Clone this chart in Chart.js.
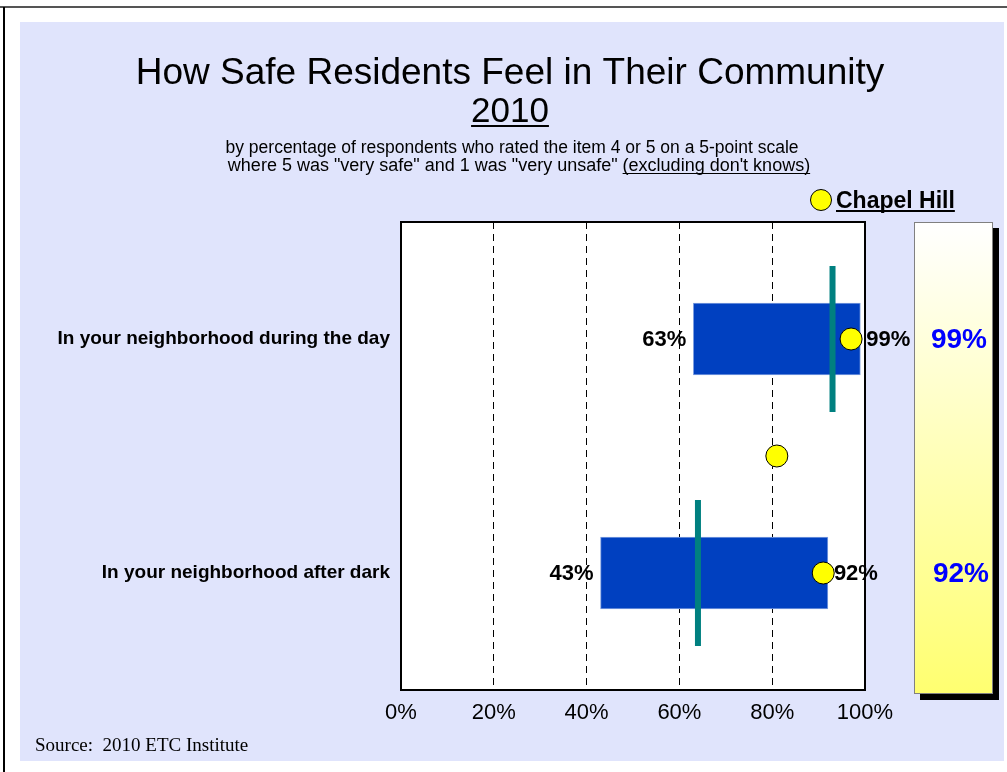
<!DOCTYPE html>
<html>
<head>
<meta charset="utf-8">
<script src="https://cdn.jsdelivr.net/npm/chart.js@4.4.1/dist/chart.umd.min.js"></script>
<style>
  html, body { margin: 0; padding: 0; background: #fff; overflow: hidden; }
  canvas { display: block; }
</style>
</head>
<body>
<canvas id="chart" width="1007" height="772"></canvas>
<script>
// chart data
const categories = ['In your neighborhood during the day', 'In your neighborhood after dark'];
const lowVals = [63, 43];      // low end of range
const highVals = [99, 92];     // high end of range
const avgVals = [93, 64];      // teal marker
const chapelHill = [97, 91];   // yellow dots on the bars
const extraDot = 81;           // stray yellow dot between the rows
const boxVals = [99, 92];      // Chapel Hill values in the side box
const xTicks = [0, 20, 40, 60, 80, 100];

const FONT = '"Liberation Sans", Arial, sans-serif';

const teal = avgVals.map((v, i) => ({
  type: 'scatter',
  data: [{ x: v, y: i - 0.312 }, { x: v, y: i + 0.312 }],
  yAxisID: 'yv',
  showLine: true,
  borderColor: '#008080',
  borderWidth: 6,
  pointRadius: 0,
  order: 1
}));

function drawPercent(ctx, text, x, y, align, font, color) {
  ctx.font = font;
  ctx.fillStyle = color;
  ctx.textAlign = align;
  ctx.textBaseline = 'middle';
  ctx.fillText(text, x, y);
}

const decor = {
  id: 'decor',
  beforeDraw(chart) {
    const { ctx, chartArea: a } = chart;
    ctx.save();
    ctx.fillStyle = '#fff';
    ctx.fillRect(0, 0, chart.width, chart.height);
    ctx.fillStyle = '#555';
    ctx.fillRect(0, 6, chart.width, 2);
    ctx.fillStyle = '#000';
    ctx.fillRect(3, 7, 2, chart.height - 7);
    ctx.fillStyle = '#E0E4FC';
    ctx.fillRect(20, 22, 984, 739);
    ctx.fillStyle = '#fff';
    ctx.fillRect(a.left, a.top, a.right - a.left, a.bottom - a.top);
    ctx.restore();
  },
  afterDraw(chart) {
    const { ctx, chartArea: a, scales } = chart;
    ctx.save();
    // plot border
    ctx.strokeStyle = '#000';
    ctx.lineWidth = 2;
    ctx.strokeRect(a.left, a.top, a.right - a.left, a.bottom - a.top);

    // titles
    ctx.fillStyle = '#000';
    ctx.textAlign = 'center';
    ctx.textBaseline = 'alphabetic';
    ctx.font = '37px ' + FONT;
    ctx.fillText('How Safe Residents Feel in Their Community', 510, 84);
    ctx.font = '35px ' + FONT;
    ctx.fillText('2010', 510, 122);
    let w = ctx.measureText('2010').width;
    ctx.fillRect(510 - w / 2, 125, w, 2);

    ctx.font = '17.5px ' + FONT;
    ctx.fillText('by percentage of respondents who rated the item 4 or 5 on a 5-point scale', 512, 153);
    ctx.font = '18px ' + FONT;
    const p1 = 'where 5 was "very safe" and 1 was "very unsafe" ';
    const p2 = "(excluding don't knows)";
    const w1 = ctx.measureText(p1).width, w2 = ctx.measureText(p2).width;
    let sx = 519 - (w1 + w2) / 2;
    ctx.textAlign = 'left';
    ctx.fillText(p1, sx, 171);
    ctx.fillText(p2, sx + w1, 171);
    ctx.fillRect(sx + w1, 173, w2, 1);

    // legend
    ctx.beginPath();
    ctx.arc(821, 200, 10.5, 0, Math.PI * 2);
    ctx.fillStyle = '#FFFF00';
    ctx.fill();
    ctx.lineWidth = 1;
    ctx.strokeStyle = '#000';
    ctx.stroke();
    ctx.fillStyle = '#000';
    ctx.font = 'bold 23px ' + FONT;
    ctx.fillText('Chapel Hill', 836, 208);
    w = ctx.measureText('Chapel Hill').width;
    ctx.fillRect(836, 210, w, 2);

    // range labels
    const lf = 'bold 22px ' + FONT;
    categories.forEach((c, i) => {
      const y = scales.y.getPixelForValue(i) + 1;
      drawPercent(ctx, lowVals[i] + '%', scales.x.getPixelForValue(lowVals[i]) - 7, y, 'right', lf, '#000');
      drawPercent(ctx, highVals[i] + '%', scales.x.getPixelForValue(highVals[i]) + 6, y, 'left', lf, '#000');
    });

    // side box
    ctx.fillStyle = '#000';
    ctx.fillRect(920, 228, 79, 472);
    const g = ctx.createLinearGradient(0, 222, 0, 694);
    g.addColorStop(0, '#FFFFFF');
    g.addColorStop(1, '#FFFF70');
    ctx.fillStyle = g;
    ctx.fillRect(914, 222, 79, 472);
    ctx.strokeStyle = '#808080';
    ctx.lineWidth = 1;
    ctx.strokeRect(914.5, 222.5, 78, 471);
    boxVals.forEach((v, i) => {
      const y = scales.y.getPixelForValue(i) + 1;
      drawPercent(ctx, v + '%', 959 + i * 2, y, 'center', 'bold 28px ' + FONT, '#0000FF');
    });

    // source
    ctx.fillStyle = '#000';
    ctx.textAlign = 'left';
    ctx.textBaseline = 'alphabetic';
    ctx.font = '19px "Liberation Serif", "Times New Roman", serif';
    ctx.fillText('Source:  2010 ETC Institute', 35, 751);
    ctx.restore();
  }
};

new Chart(document.getElementById('chart'), {
  data: {
    labels: categories,
    datasets: [
      {
        type: 'scatter',
        data: chapelHill.map((v, i) => ({ x: v, y: i })).concat([{ x: extraDot, y: 0.5 }]),
        yAxisID: 'yv',
        pointRadius: 11,
        pointBackgroundColor: '#FFFF00',
        pointBorderColor: '#000',
        pointBorderWidth: 1,
        order: 0
      },
      ...teal,
      {
        type: 'bar',
        data: categories.map((c, i) => [lowVals[i], highVals[i]]),
        yAxisID: 'y',
        backgroundColor: '#0040C0',
        borderColor: '#7F9FE0',
        borderWidth: 1,
        borderSkipped: false,
        grouped: false,
        barThickness: 72,
        maxBarThickness: 72,
        order: 2
      }
    ]
  },
  options: {
    indexAxis: 'y',
    responsive: false,
    animation: false,
    devicePixelRatio: 1,
    layout: { padding: { left: 0, top: 222, right: 142, bottom: 0 } },
    plugins: { legend: { display: false }, tooltip: { enabled: false } },
    scales: {
      x: {
        type: 'linear',
        min: 0,
        max: 100,
        afterBuildTicks: (s) => { s.ticks = xTicks.map(v => ({ value: v })); },
        afterFit: (s) => { s.height = 82; },
        ticks: {
          callback: (v) => v + '%',
          color: '#000',
          font: { family: FONT, size: 22 },
          padding: 10
        },
        grid: {
          color: (c) => (c.tick && (c.tick.value === 0 || c.tick.value === 100)) ? 'rgba(0,0,0,0)' : '#000',
          lineWidth: 1,
          drawTicks: false
        },
        border: { display: false, dash: [7, 5] }
      },
      y: {
        type: 'category',
        afterFit: (s) => { s.width = 401; },
        ticks: {
          color: '#000',
          font: { family: FONT, size: 19, weight: 'bold' },
          padding: 3
        },
        grid: { display: false },
        border: { display: false }
      },
      yv: {
        type: 'linear',
        display: false,
        min: -0.5,
        max: 1.5,
        reverse: true
      }
    }
  },
  plugins: [decor]
});
</script>
</body>
</html>
